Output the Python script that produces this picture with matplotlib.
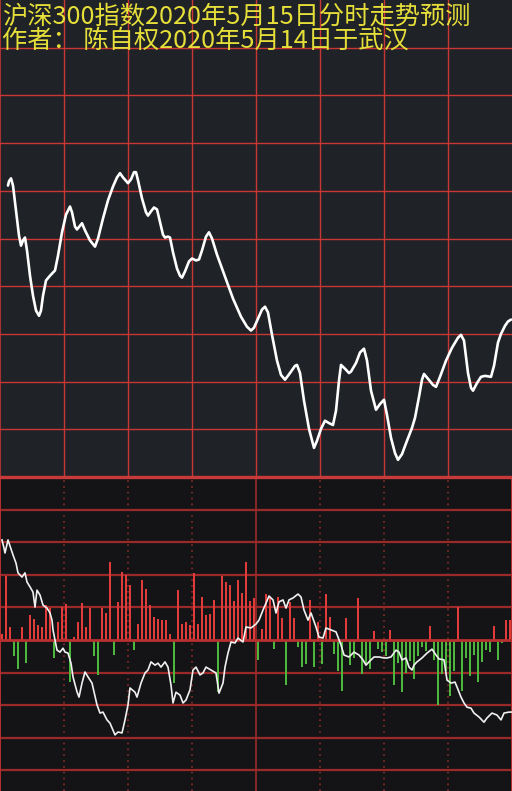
import numpy as np
import matplotlib
matplotlib.use("Agg")
import matplotlib.pyplot as plt

plt.rcParams['font.family'] = ['Noto Sans CJK SC', 'DejaVu Sans']

title1 = "沪深300指数2020年5月15日分时走势预测"
title2 = "作者： 陈自权2020年5月14日于武汉"

# forecast curve (top panel): time slot, level (grid units)
top_t = [8,9,11,13,16,19,21,23,25,27,30,33,36,39,41,43,46,50,55,58,
         62,66,70,72,75,77,80,82,85,90,95,98,103,108,113,117,120,123,128,131,
         134,136,138,142,146,148,151,154,157,160,163,165,168,170,173,177,180,182,185,189,
         192,196,199,202,206,209,212,217,225,233,241,247,251,254,258,262,265,268,272,277,
         281,285,290,295,297,300,304,309,314,317,321,325,329,333,336,339,341,345,349,351,
         356,360,364,367,371,376,380,384,387,391,395,398,402,407,412,415,419,422,424,428,
         433,436,440,446,452,458,461,464,468,471,473,477,481,485,491,494,498,501,505,508,511]
top_v = [6.11,6.20,6.26,6.11,5.59,5.06,4.85,4.96,5.02,4.75,4.22,3.80,3.49,3.38,3.49,3.80,4.12,4.22,4.33,4.64,
         5.13,5.50,5.67,5.55,5.25,5.19,5.27,5.32,5.17,4.96,4.83,5.00,5.42,5.80,6.09,6.28,6.37,6.28,6.16,6.24,
         6.39,6.39,6.22,5.84,5.55,5.48,5.57,5.65,5.61,5.34,5.08,5.02,5.04,5.02,4.71,4.37,4.22,4.18,4.31,4.52,
         4.58,4.54,4.56,4.75,5.04,5.13,5.00,4.66,4.20,3.74,3.36,3.15,3.07,3.13,3.32,3.51,3.57,3.45,2.98,2.44,
         2.14,2.04,2.18,2.33,2.35,2.18,1.60,1.01,0.61,0.76,1.01,1.18,1.13,1.09,1.39,2.02,2.35,2.27,2.18,2.21,
         2.39,2.61,2.69,2.44,1.81,1.41,1.53,1.62,1.30,0.82,0.50,0.36,0.48,0.76,1.03,1.24,1.68,2.04,2.16,2.06,
         1.93,1.89,2.10,2.44,2.71,2.92,2.98,2.86,2.18,1.87,1.81,1.97,2.10,2.12,2.10,2.33,2.82,3.00,3.17,3.26,3.30]

# lower panel white line
bot_t = [2,4,5,8,12,13,16,18,22,25,27,30,33,35,37,40,43,47,50,52,
         53,55,57,60,63,65,68,71,73,77,79,82,85,88,92,97,100,103,107,110,
         115,118,122,125,128,130,135,137,141,145,148,151,155,158,161,165,168,171,173,176,
         180,183,186,190,193,196,200,203,206,211,216,219,223,225,228,231,235,238,243,246,
         251,256,259,263,266,269,273,276,279,283,286,289,293,298,301,304,308,311,316,319,
         323,326,331,336,341,344,349,354,359,363,366,369,374,379,384,387,391,396,399,402,
         406,409,412,414,417,422,427,432,436,439,444,447,451,455,457,461,464,467,471,474,
         479,484,487,492,497,501,504,509,512]
bot_v = [3.07,2.82,2.67,3.07,2.70,2.61,2.36,2.06,1.93,2.06,1.78,1.63,1.47,1.01,1.53,1.38,1.07,0.98,0.83,0.61,
         0.31,0.00,-0.31,-0.37,-0.25,-0.37,-0.40,-0.71,-1.13,-1.59,-1.75,-1.32,-0.98,-1.13,-1.32,-1.99,-2.24,-2.21,-2.45,-2.55,
         -2.91,-2.82,-2.85,-2.45,-1.99,-1.47,-1.60,-1.75,-1.32,-1.01,-0.92,-0.67,-0.77,-0.71,-0.83,-0.67,-0.83,-1.38,-1.93,-1.60,
         -1.69,-1.93,-1.84,-1.53,-0.92,-0.83,-1.07,-1.01,-0.83,-0.92,-1.01,-1.63,-1.32,-0.83,-0.40,-0.06,-0.09,0.06,-0.06,0.40,
         0.37,0.49,0.61,0.92,1.13,1.35,1.23,0.83,1.17,1.23,0.98,1.23,1.29,1.41,1.32,0.92,0.61,0.83,0.40,0.09,
         0.06,0.37,0.31,0.25,-0.15,-0.46,-0.52,-0.37,-0.46,-0.61,-0.77,-0.67,-0.52,-0.52,-0.55,-0.55,-0.52,-0.31,-0.37,-0.61,
         -0.55,-0.83,-0.92,-0.77,-0.67,-0.55,-0.40,-0.28,-0.46,-0.58,-0.61,-1.23,-1.32,-1.29,-1.44,-1.75,-1.93,-2.06,-2.09,-2.24,
         -2.36,-2.52,-2.39,-2.24,-2.30,-2.45,-2.24,-2.21,-2.21]

# lower panel bars (one per 4 time slots)
bar_v = [0.2,1.95,0.4,-0.5,-0.9,0.4,-0.7,0.77,0.66,0.46,
         0.4,1.07,0.97,-0.55,0.56,1.0,1.1,-1.3,0.1,0.56,
         1.15,0.4,0.97,-0.5,-1.07,0.97,0.82,2.4,-0.46,1.18,
         2.1,2.0,
         1.69,-0.3,0.5,1.84,1.58,1.07,0.72,0.65,0.6,0.6,
         0.2,-1.33,1.53,0.5,0.55,0.45,2.05,0.5,1.33,0.77,
         0.8,1.23,-1.6,1.95,1.77,1.7,1.2,1.84,1.45,2.4,
         1.2,1.3,
         -0.6,0.33,1.4,1.33,-0.28,1.33,0.67,-1.39,1.17,0.67,
         -0.2,-0.83,-0.72,1.22,-0.83,0.55,-0.72,1.42,0.7,-0.44,
         -0.94,-1.55,0.67,-0.78,-0.55,1.28,-1.05,-0.72,-0.9,0.28,
         -0.28,-0.38,
         -0.5,0.3,-1.39,-0.7,-1.6,-1.0,-0.65,-1.2,-0.5,-0.2,
         -0.35,0.44,-0.6,-2.0,-1.05,-0.95,-1.72,-0.95,1.02,-1.55,
         -0.55,-1.1,-0.45,-1.28,-0.67,-0.3,-0.38,0.44,-0.6,-0.1,
         0.6,0.6]

W, H = 512, 791
fig = plt.figure(figsize=(W / 100, H / 100), dpi=100)
fig.patch.set_facecolor('#141416')

split = 314 / H
ax1 = fig.add_axes([0, split, 1, 1 - split])
ax2 = fig.add_axes([0, 0, 1, split])

# ---------- top panel ----------
ax1.set_facecolor('#1f2226')
ax1.set_xlim(0, 512)
ax1.set_ylim(0, 10)
for x in range(64, 512, 64):
    ax1.axvline(x, color='#c83636', lw=1.0, zorder=1)
for y in range(1, 10):
    ax1.axhline(y, color='#c83636', lw=1.0, zorder=1)
ax1.plot(top_t, top_v, color='white', lw=1.9, solid_joinstyle='round',
         solid_capstyle='round', zorder=3)
ax1.set_xticks([]); ax1.set_yticks([])
for s in ['top', 'right']:
    ax1.spines[s].set_visible(False)
ax1.spines['left'].set_color('#c83636'); ax1.spines['left'].set_linewidth(1.2)
ax1.spines['bottom'].set_color('#c83636'); ax1.spines['bottom'].set_linewidth(2.2)

# ---------- bottom panel ----------
ax2.set_facecolor('#141416')
ax2.set_xlim(0, 512)
ax2.set_ylim(-4.63, 5.0)
for y in [-4, -3, -2, -1, 1, 2, 3, 4]:
    ax2.axhline(y, color='#9a2a2a', lw=1.6, zorder=1)
for x in range(64, 512, 64):
    if x == 256:
        ax2.axvline(x, color='#9a2a2a', lw=1.2, zorder=1)
    else:
        ax2.axvline(x, color='#8a2a2a', lw=1.2, ls=(0, (1, 2.5)), zorder=1)

bx = np.arange(len(bar_v)) * 4 + 2
bv = np.array(bar_v)
cols = np.where(bv >= 0, '#e23c3a', '#4db63c')
ax2.bar(bx, bv, width=2.9, color=cols, zorder=2)
ax2.axhline(0, color='#b83030', lw=2.0, zorder=2.5)
ax2.plot(bot_t, bot_v, color='#f0f0f0', lw=1.2, zorder=3)
ax2.set_xticks([]); ax2.set_yticks([])
ax2.spines['bottom'].set_visible(False)
for s in ['left', 'right']:
    ax2.spines[s].set_color('#b83030'); ax2.spines[s].set_linewidth(1.4)
ax2.spines['top'].set_color('#c83a3a'); ax2.spines['top'].set_linewidth(2.4)

# ---------- titles ----------
fig.text(2 / W, 1 - 4 / H, title1, color='#e6df3a', fontsize=18.2,
         ha='left', va='top')
fig.text(2 / W, 1 - 28 / H, title2, color='#e6df3a', fontsize=18.2,
         ha='left', va='top')

fig.savefig('out.png', dpi=100, facecolor=fig.get_facecolor())
